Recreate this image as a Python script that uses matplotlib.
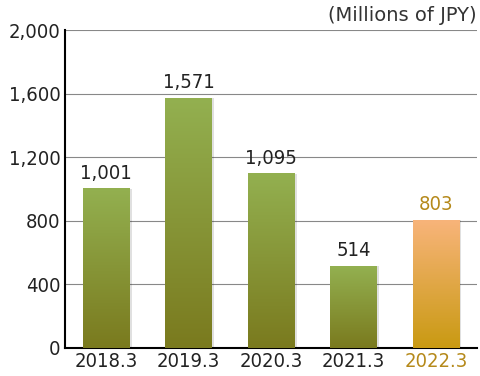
import matplotlib.pyplot as plt
import numpy as np
from matplotlib.colors import LinearSegmentedColormap

years = ["2018.3", "2019.3", "2020.3", "2021.3", "2022.3"]
values = [1001, 1571, 1095, 514, 803]
highlight = [False, False, False, False, True]
yticks = [0, 400, 800, 1200, 1600, 2000]

plt.rcParams['font.family'] = ['DejaVu Sans']
plt.rcParams['font.stretch'] = 'condensed'
plt.rcParams['font.weight'] = 'light'

green = LinearSegmentedColormap.from_list("g", ["#7a7a1e", "#93b050"])
orange = LinearSegmentedColormap.from_list("o", ["#c99a12", "#f8b47a"])
gold = "#b5891a"

fig = plt.figure(figsize=(4.8, 3.76), dpi=100)
ax = fig.add_axes([0.135, 0.0745, 0.859, 0.8455])

width = 0.56
grad = np.linspace(0, 1, 256).reshape(-1, 1)
for i, (v, hl) in enumerate(zip(values, highlight)):
    x0 = i - width / 2
    # soft shadow on the right
    ax.bar(i + 0.03, v, width=width, color="#000000", alpha=0.12, zorder=2)
    ax.imshow(grad, extent=[x0, x0 + width, 0, v], origin="lower", aspect="auto",
              cmap=orange if hl else green, zorder=3)
    ax.text(i, v + 40, f"{v:,}", ha="center", va="bottom", fontsize=14.5,
            color=gold if hl else "#222222", zorder=4)

ax.set_xlim(-0.5, 4.5)
ax.set_ylim(0, 2000)
ax.set_yticks(yticks)
ax.set_yticklabels([f"{t:,}" for t in yticks], fontsize=14.5, color="#222222")
ax.set_xticks(range(len(years)))
ax.set_xticklabels(years, fontsize=14.5)
for lbl, hl in zip(ax.get_xticklabels(), highlight):
    lbl.set_color(gold if hl else "#222222")
ax.tick_params(length=0, pad=3)
ax.yaxis.grid(True, color="#888888", linewidth=0.8)
ax.set_axisbelow(True)
for s in ["top", "right"]:
    ax.spines[s].set_visible(False)
ax.spines["left"].set_linewidth(1.5)
ax.spines["bottom"].set_linewidth(1.5)

fig.text(0.994, 0.985, "(Millions of JPY)", ha="right", va="top", fontsize=14, color="#333333",
         stretch="normal", weight="normal")

fig.savefig("out.png", dpi=100)
